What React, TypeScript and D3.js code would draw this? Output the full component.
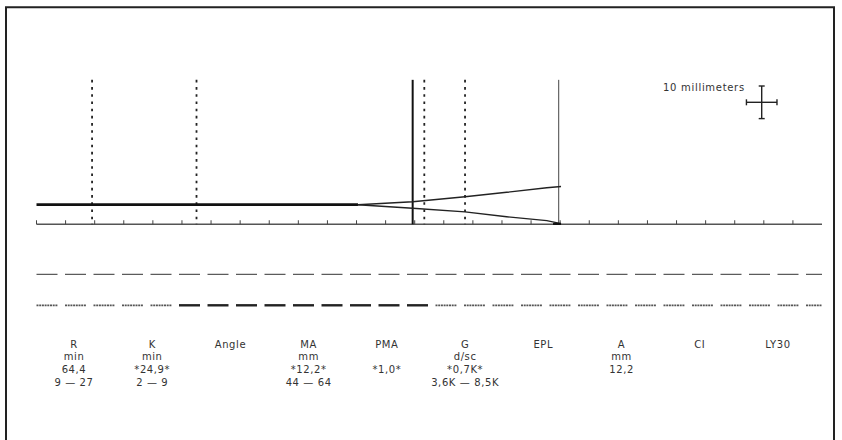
import React from "react";
import * as d3 from "d3";

// ---- data ----
// time axis in minutes, amplitude in millimetres
const axisTicks = d3.range(0, 261, 10);
const traceFlatTime = [0, 110.5];
const traceFlatAmp = [0, 0];
const traceArmTime = [110.5, 129.3, 147.3, 161.6, 175.4, 180.3];
const traceUpperAmp = [0, 0.9, 2.45, 3.8, 5.2, 5.6];
const traceLowerAmp = [0, -1.1, -2.2, -3.7, -4.9, -5.8];
const dottedMarkers = [19.1, 55.0, 133.3, 147.3];
const solidMarkers = [129.3, 179.5];
const solidMarkerWeight = [2, 1];

const paramNames = ["R", "K", "Angle", "MA", "PMA", "G", "EPL", "A", "CI", "LY30"];
const paramUnits = ["min", "min", "", "mm", "", "d/sc", "", "mm", "", ""];
const paramValues = ["64,4", "*24,9*", "", "*12,2*", "*1,0*", "*0,7K*", "", "12,2", "", ""];
const paramRanges = ["9 \u2014 27", "2 \u2014 9", "", "44 \u2014 64", "", "3,6K \u2014 8,5K", "", "", "", ""];

const scaleBarLabel = "10 millimeters";
const scaleBarMm = 10;
const highlightDashRange = [49, 135];

const W = 842;
const H = 440;

export default function App() {
  const x = d3.scaleLinear().domain([0, 270]).range([36.5, 822]);
  const y = d3.scaleLinear().domain([0, 10]).range([204.7, 172.1]);
  const baseAmp = -6;
  const topAmp = 38.3;

  const lineGen = d3
    .line<[number, number]>()
    .x((d) => x(d[0]))
    .y((d) => y(d[1]));

  const flat = lineGen(traceFlatTime.map((t, i) => [t, traceFlatAmp[i]]) as [number, number][]);
  const upper = lineGen(traceArmTime.map((t, i) => [t, traceUpperAmp[i]]) as [number, number][]);
  const lower = lineGen(traceArmTime.map((t, i) => [t, traceLowerAmp[i]]) as [number, number][]);

  const axisY = y(baseAmp);
  const [x0, x1] = x.range();

  // dashed rows
  const period = 28.5;
  const dashLen = 21;
  const dashStarts = d3.range(x0, x1, period);
  const row1Y = 274.3;
  const row2Y = 305.3;
  const hlStart = x(highlightDashRange[0]);
  const hlEnd = x(highlightDashRange[1]);

  // columns of parameter text
  const colScale = d3
    .scalePoint<string>()
    .domain(paramNames)
    .range([74, 778]);
  const rowBase = [347.5, 360.2, 372.8, 385.5];

  // scale bar
  const cbx = 761.7;
  const cby = 102.3;
  const vHalf = (y(0) - y(scaleBarMm)) / 2;
  const hHalf = (x(10.5) - x(0)) / 2;

  const font = "'DejaVu Sans', Verdana, sans-serif";

  return (
    <svg
      width={W}
      height={H}
      style={{ position: "absolute", left: 0, top: 0, background: "#fff" }}
    >
      <rect x={0} y={0} width={W} height={H} fill="#fff" />
      {/* frame */}
      <path d={`M6,${H} V7.3 H834 V${H}`} fill="none" stroke="#222" strokeWidth={2} />

      {/* axis */}
      <line x1={x0} x2={x1} y1={axisY} y2={axisY} stroke="#555" strokeWidth={1.3} />
      {axisTicks.map((t) => (
        <line key={t} x1={x(t)} x2={x(t)} y1={axisY} y2={axisY - 4} stroke="#444" strokeWidth={1} />
      ))}

      {/* markers */}
      {dottedMarkers.map((t) => (
        <line
          key={"d" + t}
          x1={x(t)}
          x2={x(t)}
          y1={y(topAmp)}
          y2={axisY}
          stroke="#222"
          strokeWidth={1.8}
          strokeDasharray="2.6,4.6"
        />
      ))}
      {solidMarkers.map((t, i) => (
        <line
          key={"s" + t}
          x1={x(t)}
          x2={x(t)}
          y1={y(topAmp)}
          y2={axisY}
          stroke={solidMarkerWeight[i] > 1 ? "#111" : "#444"}
          strokeWidth={solidMarkerWeight[i]}
        />
      ))}

      {/* trace */}
      <path d={flat || ""} fill="none" stroke="#111" strokeWidth={2.7} />
      <path d={upper || ""} fill="none" stroke="#222" strokeWidth={1.4} />
      <path d={lower || ""} fill="none" stroke="#222" strokeWidth={1.4} />
      <line
        x1={x(traceArmTime[traceArmTime.length - 1]) - 8}
        x2={x(traceArmTime[traceArmTime.length - 1])}
        y1={y(traceLowerAmp[traceLowerAmp.length - 1]) + 0.3}
        y2={y(traceLowerAmp[traceLowerAmp.length - 1]) + 0.3}
        stroke="#111"
        strokeWidth={2.2}
      />

      {/* dashed rows */}
      {dashStarts.map((s, k) => (
        <line
          key={"r1" + k}
          x1={s}
          x2={Math.min(s + dashLen, x1)}
          y1={row1Y}
          y2={row1Y}
          stroke="#333"
          strokeWidth={1}
        />
      ))}
      {dashStarts.map((s, k) => {
        const hl = s >= hlStart - 1 && s + dashLen <= hlEnd + 1;
        return (
          <line
            key={"r2" + k}
            x1={s}
            x2={Math.min(s + dashLen, x1)}
            y1={row2Y}
            y2={row2Y}
            stroke={hl ? "#222" : "#555"}
            strokeWidth={hl ? 2.4 : 1.8}
            strokeDasharray={hl ? undefined : "2,0.7"}
          />
        );
      })}

      {/* parameter text */}
      <g fontFamily={font} fontSize={10} fill="#333" textAnchor="middle" letterSpacing={0.6}>
        {paramNames.map((n, i) => {
          const cx = colScale(n) as number;
          return (
            <g key={n}>
              <text x={cx} y={rowBase[0]}>{n}</text>
              {paramUnits[i] && <text x={cx} y={rowBase[1]}>{paramUnits[i]}</text>}
              {paramValues[i] && <text x={cx} y={rowBase[2]}>{paramValues[i]}</text>}
              {paramRanges[i] && <text x={cx} y={rowBase[3]}>{paramRanges[i]}</text>}
            </g>
          );
        })}
      </g>

      {/* scale bar */}
      <text x={663} y={90.5} fontFamily={font} fontSize={10} fill="#333" letterSpacing={0.7}>
        {scaleBarLabel}
      </text>
      <g stroke="#222" strokeWidth={1.4}>
        <line x1={cbx} x2={cbx} y1={cby - vHalf} y2={cby + vHalf} />
        <line x1={cbx - 3} x2={cbx + 3} y1={cby - vHalf} y2={cby - vHalf} />
        <line x1={cbx - 3} x2={cbx + 3} y1={cby + vHalf} y2={cby + vHalf} />
        <line x1={cbx - hHalf} x2={cbx + hHalf} y1={cby} y2={cby} />
        <line x1={cbx - hHalf} x2={cbx - hHalf} y1={cby - 3} y2={cby + 3} />
        <line x1={cbx + hHalf} x2={cbx + hHalf} y1={cby - 3} y2={cby + 3} />
      </g>
    </svg>
  );
}
